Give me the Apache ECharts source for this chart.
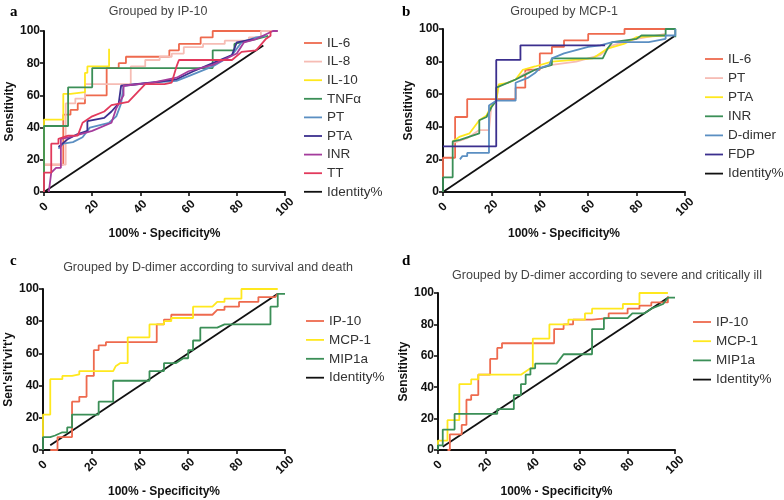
<!DOCTYPE html>
<html><head><meta charset="utf-8">
<script src="https://cdn.jsdelivr.net/npm/echarts@6/dist/echarts.min.js"></script>
<style>html,body{margin:0;padding:0;background:#fff}#c{width:784px;height:500px}</style>
</head><body><div id="c"></div>
<script>
// ---- Tick labels ----
const ticks = [0, 20, 40, 60, 80, 100];

// ---- Panel a: Grouped by IP-10 ----
const a_IL6 = [[0,0],[0,17],[8,17],[8,48],[11,48],[11,51],[14,51],[14,55],[17,55],[17,60],[26,60],[26,77],[31,77],[31,80],[34,80],[34,84],[52,84],[52,88],[56,88],[56,92],[65,92],[65,96],[70,96],[70,100],[97,100]];
const a_IL8 = [[0,0],[0,17],[9,17],[9,55],[13,55],[13,58],[17,58],[17,67],[36,67],[36,78],[42,78],[42,82],[48,82],[48,84],[53,84],[53,86],[58,86],[58,90],[66,90],[66,92],[75,92],[75,94],[85,94],[85,96],[90,96],[90,100],[97,100]];
const a_IL10 = [[0,0],[0,45],[8,45],[8,61],[11,61],[11,62],[17,62],[17,74],[18,74],[18,78],[27,78],[27,89]];
const a_TNF = [[0,0],[0,41],[10,41],[10,65],[20,65],[20,77],[70,77],[70,88],[79,88],[79,92],[88,95],[93,97]];
const a_PT = [[6,27],[8,30],[12,31],[16,34],[19,40],[27,43],[30,47],[32,55],[33,66],[45,68],[55,69],[60,72],[70,78],[78,85],[82,93],[88,96],[92,97]];
const a_PTA = [[6,28],[10,33],[14,36],[18,38],[18,44],[25,46],[28,50],[31,55],[32,66],[45,68],[55,70],[62,75],[70,80],[78,85],[80,93],[87,95]];
const a_INR = [[2,0],[3,12],[5,15],[7,15],[7,33],[10,34],[13,35],[20,38],[28,43],[30,52],[33,60],[33,66],[45,68],[55,71],[60,75],[70,79],[80,86],[83,93],[88,95],[95,100],[97,100]];
const a_TT = [[0,0],[0,12],[3,12],[3,30],[6,30],[6,33],[10,35],[14,35],[16,43],[20,47],[25,50],[28,54],[35,56],[42,67],[50,67],[53,68],[55,78],[56,82],[78,82],[82,87],[88,88],[92,95],[94,97],[94,100]];
const a_ID = [[0,0],[91,91]];

// ---- Panel b: Grouped by MCP-1 ----
const b_IL6 = [[0,9],[0,21],[5,21],[5,46],[10,46],[10,57],[30,57],[30,64],[34,64],[34,75],[40,75],[40,85],[45,85],[45,89],[50,89],[50,93],[60,93],[60,97],[75,97],[75,100],[93,100]];
const b_PT = [[4,30],[10,33],[15,38],[19,38],[20,53],[22,56],[23,65],[30,69],[34,73],[38,75],[45,78],[55,80],[65,84],[70,90],[80,94],[92,97]];
const b_PTA = [[4,31],[7,34],[11,36],[15,44],[18,47],[20,53],[22,56],[23,66],[27,67],[30,69],[33,75],[38,77],[45,80],[62,82],[68,88],[75,91],[80,95],[92,96]];
const b_INR = [[0,0],[0,9],[4,9],[4,31],[7,32],[11,34],[15,36],[15,44],[18,46],[20,52],[22,56],[22,64],[30,69],[34,72],[38,75],[45,78],[45,82],[66,82],[68,88],[70,92],[80,94],[82,96],[92,96],[92,100],[96,100],[96,95]];
const b_DD = [[7,20],[8,22],[10,22],[10,24],[19,24],[19,53],[22,56],[30,56],[30,67],[35,70],[38,73],[40,76],[44,78],[45,82],[50,85],[55,87],[60,89],[65,90],[70,92],[85,92],[92,94],[92,96],[96,96],[96,100]];
const b_FDP = [[0,28],[22,28],[22,81],[32,81],[32,90],[67,90]];
const b_ID = [[0,0],[96,96]];

// ---- Panel c: D-dimer, survival and death ----
const c_IP10 = [[3,0],[6,0],[6,8],[12,8],[12,30],[15,30],[15,33],[18,33],[18,46],[21,46],[21,62],[23,62],[23,65],[26,65],[26,67],[47,67],[47,78],[50,78],[50,81],[53,81],[53,84],[70,84],[72,87],[75,87],[75,89],[81,89],[81,92],[89,92],[89,95],[96,95],[97,97]];
const c_MCP1 = [[0,8],[0,22],[3,22],[3,44],[8,44],[8,46],[12,46],[12,47],[15,47],[15,49],[29,49],[30,52],[32,54],[35,54],[35,70],[44,70],[44,78],[50,78],[50,80],[53,80],[53,82],[62,82],[62,89],[70,89],[72,92],[75,92],[75,94],[82,94],[82,100],[97,100]];
const c_MIP1a = [[0,0],[0,8],[3,8],[5,9],[8,11],[10,11],[10,14],[12,14],[12,22],[23,22],[23,30],[29,30],[29,43],[44,43],[44,49],[50,49],[50,54],[55,54],[58,57],[60,57],[60,62],[62,62],[62,68],[65,68],[65,76],[72,76],[75,78],[94,78],[94,89],[97,89],[97,97],[100,97]];
const c_ID = [[3,3],[97,97]];

// ---- Panel d: D-dimer, severe and critically ill ----
const d_IP10 = [[4,0],[5,0],[5,10],[10,10],[10,16],[12,16],[12,32],[14,32],[14,35],[17,35],[17,48],[22,48],[22,58],[25,58],[25,65],[27,65],[27,68],[49,68],[49,77],[53,77],[53,80],[57,80],[57,83],[65,83],[72,84],[72,87],[80,87],[80,90],[85,90],[85,92],[90,92],[90,94],[97,94],[97,98]];
const d_MCP1 = [[0,3],[0,6],[4,6],[4,19],[9,19],[9,42],[14,42],[14,45],[17,45],[17,48],[35,48],[37,50],[39,52],[40,52],[40,71],[47,71],[47,80],[55,80],[55,83],[62,83],[62,87],[65,87],[65,90],[78,90],[78,93],[85,93],[85,100],[97,100]];
const d_MIP1a = [[0,0],[0,3],[2,3],[2,13],[7,13],[7,23],[25,23],[25,26],[32,26],[32,35],[35,35],[35,42],[37,42],[37,48],[39,48],[39,52],[41,52],[41,55],[50,55],[53,61],[65,61],[65,77],[70,77],[70,84],[80,84],[82,87],[87,87],[90,90],[95,93],[97,97],[100,97]];
const d_ID = [[2,2],[97,97]];

const C = {
  orange:'#EE6A4E', pink:'#F6BCB4', yellow:'#FFE81E', green:'#3B8F57',
  blue:'#5B8FC2', indigo:'#3B2F8E', purple:'#A43C9C', crimson:'#E23A5C', black:'#111111'
};

const panels = [
  { grid:{left:44, top:31, width:241, height:161}, title:'Grouped by IP-10', tx:153, ty:0, letter:'a', lx:5, ly:0,
    yname:'Sensitivity',
    legend:{left:299, top:31, gap:4.6},
    series:[['IL-6',a_IL6,C.orange],['IL-8',a_IL8,C.pink],['IL-10',a_IL10,C.yellow],['TNFα',a_TNF,C.green],
            ['PT',a_PT,C.blue],['PTA',a_PTA,C.indigo],['INR',a_INR,C.purple],['TT',a_TT,C.crimson],['Identity%',a_ID,C.black]] },
  { grid:{left:443, top:29, width:242, height:163}, title:'Grouped by MCP-1', tx:559, ty:0, letter:'b', lx:397, ly:0,
    yname:'Sensitivity',
    legend:{left:700, top:47, gap:5.1},
    series:[['IL-6',b_IL6,C.orange],['PT',b_PT,C.pink],['PTA',b_PTA,C.yellow],['INR',b_INR,C.green],
            ['D-dimer',b_DD,C.blue],['FDP',b_FDP,C.indigo],['Identity%',b_ID,C.black]] },
  { grid:{left:43, top:289, width:242, height:161}, title:'Grouped by D-dimer according to survival and death', tx:203, ty:256, letter:'c', lx:5, ly:249,
    yname:"Sen'si'ti'vi't'y",
    legend:{left:301, top:309, gap:4.9},
    series:[['IP-10',c_IP10,C.orange],['MCP-1',c_MCP1,C.yellow],['MIP1a',c_MIP1a,C.green],['Identity%',c_ID,C.black]] },
  { grid:{left:438, top:293, width:237, height:157}, title:'Grouped by D-dimer according to severe and critically ill', tx:602, ty:264, letter:'d', lx:397, ly:249,
    yname:'Sensitivity',
    legend:{left:688, top:310, gap:5.2},
    series:[['IP-10',d_IP10,C.orange],['MCP-1',d_MCP1,C.yellow],['MIP1a',d_MIP1a,C.green],['Identity%',d_ID,C.black]] }
];

const FONT = 'Liberation Sans, Arial, sans-serif';
const option = {
  animation:false, backgroundColor:'#fff',
  title:[], grid:[], xAxis:[], yAxis:[], legend:[], series:[]
};
panels.forEach((p, i) => {
  option.grid.push(p.grid);
  option.title.push({text:p.title, left:p.tx, top:p.ty, textAlign:'center',
    textStyle:{fontFamily:FONT, fontSize:12.5, fontWeight:'normal', color:'#444'}});
  option.title.push({text:p.letter, left:p.lx, top:p.ly,
    textStyle:{fontFamily:'Liberation Serif, serif', fontSize:15, fontWeight:'bold', color:'#000'}});
  const axisCommon = {
    type:'value', min:0, max:100, interval:20, gridIndex:i,
    splitLine:{show:false},
    axisLine:{show:true, lineStyle:{color:'#111', width:2}},
    axisTick:{show:true, length:4, lineStyle:{color:'#111', width:1.6}},
    nameTextStyle:{fontFamily:FONT, fontSize:12, fontWeight:'bold', color:'#111'}
  };
  option.xAxis.push(Object.assign({}, axisCommon, {
    name:'100% - Specificity%', nameLocation:'middle', nameGap:36,
    axisLabel:{rotate:45, align:'center', verticalAlign:'middle', fontFamily:FONT, fontSize:12, fontWeight:'bold', color:'#111', margin:15,
      formatter:v=>ticks.includes(v)?String(v):''}
  }));
  option.yAxis.push(Object.assign({}, axisCommon, {
    name:p.yname, nameLocation:'middle', nameGap:28,
    axisLabel:{fontFamily:FONT, fontSize:12, fontWeight:'bold', color:'#111', margin:4}
  }));
  option.legend.push({
    orient:'vertical', left:p.legend.left, top:p.legend.top,
    itemWidth:18, itemHeight:14, itemGap:p.legend.gap,
    textStyle:{fontFamily:FONT, fontSize:13.5, color:'#333'},
    selectedMode:false,
    data:p.series.map(s => ({name:s[0], icon:'path://M0,0 L20,0 L20,2 L0,2 Z', itemStyle:{color:s[2]}, lineStyle:{color:s[2], width:2}}))
  });
  p.series.forEach(s => {
    option.series.push({
      name:s[0], type:'line', xAxisIndex:i, yAxisIndex:i, data:s[1],
      symbol:'none', lineStyle:{color:s[2], width:1.8}, itemStyle:{color:s[2]},
      z: s[0]==='Identity%' ? 1 : 2
    });
  });
});
const chart = echarts.init(document.getElementById('c'), null, {renderer:'canvas'});
chart.setOption(option);
</script></body></html>
